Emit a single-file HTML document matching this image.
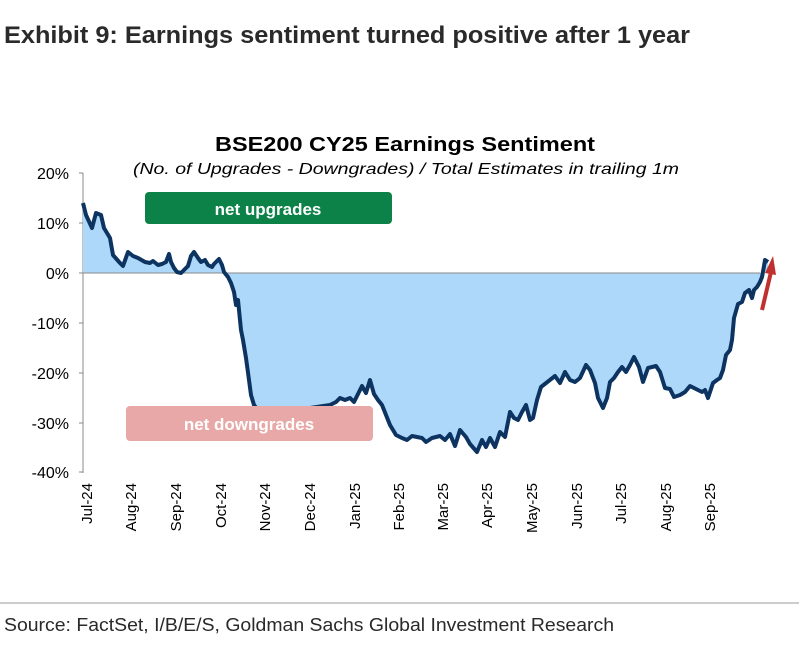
<!DOCTYPE html>
<html><head><style>
body{margin:0;background:#fff;width:799px;height:645px;overflow:hidden;font-family:"Liberation Sans",sans-serif}
</style></head><body>
<svg width="799" height="645" xmlns="http://www.w3.org/2000/svg" font-family="Liberation Sans, sans-serif">
<text x="4" y="43" font-size="24" font-weight="bold" fill="#2a2a2a" textLength="686" lengthAdjust="spacingAndGlyphs">Exhibit 9: Earnings sentiment turned positive after 1 year</text>
<text x="215" y="151" font-size="20" font-weight="bold" fill="#000" textLength="380" lengthAdjust="spacingAndGlyphs">BSE200 CY25 Earnings Sentiment</text>
<text x="133" y="174" font-size="16" font-style="italic" fill="#000" textLength="546" lengthAdjust="spacingAndGlyphs">(No. of Upgrades - Downgrades) / Total Estimates in trailing 1m</text>
<g font-size="16" text-anchor="end" fill="#000">
<text x="69" y="179">20%</text><text x="69" y="229">10%</text><text x="69" y="279">0%</text>
<text x="69" y="329">-10%</text><text x="69" y="379">-20%</text><text x="69" y="429">-30%</text><text x="69" y="478">-40%</text>
</g>
<line x1="83" y1="173" x2="83" y2="473" stroke="#888"/>
<g stroke="#888"><line x1="79" y1="173" x2="83" y2="173"/><line x1="79" y1="223" x2="83" y2="223"/><line x1="79" y1="273" x2="83" y2="273"/><line x1="79" y1="323" x2="83" y2="323"/><line x1="79" y1="373" x2="83" y2="373"/><line x1="79" y1="423" x2="83" y2="423"/><line x1="79" y1="472" x2="83" y2="472"/></g>
<polygon fill="#aed8fa" points="83,273 83,203 86,215 92,228 96,213 101,215 104,228 110,238 113,255 120,263 123,266 128,252 133,256 138,258 145,262 150,263 153,261 158,265 162,264 166,262 169,254 171,262 174,268 177,272 181,273 185,269 188,266 191,256 194,252 198,258 201,262 205,260 208,265 212,267 214,264 219,259 222,265 224,272 228,277 231,283 234,292 236,305 238,300 241,330 243,340 246,358 249,380 251,395 254,405 258,410 270,412 290,410 310,408 330,405 336,402 340,398 345,400 350,398 354,402 358,394 362,386 366,393 370,380 374,394 378,400 382,405 386,415 390,425 396,435 402,438 407,440 412,436 417,437 422,438 426,442 432,438 440,436 445,440 450,434 455,446 460,430 466,437 470,444 477,452 482,440 486,447 490,438 495,447 500,432 505,437 510,412 514,418 518,420 522,412 526,405 530,420 533,418 537,400 541,387 555,376 560,383 565,372 570,380 575,382 580,378 586,365 590,370 595,383 598,398 603,408 607,398 610,382 614,378 618,372 622,367 626,372 630,365 634,357 639,367 643,382 648,368 652,367 656,366 660,372 665,388 670,389 674,397 680,395 685,392 690,386 694,388 698,390 702,392 705,390 708,398 713,383 717,380 720,378 723,370 726,355 730,350 732,340 734,318 738,304 742,302 745,293 749,290 752,298 754,290 757,287 760,282 762,277 764,266 765,260 768,262 768,273"/>
<line x1="83" y1="273" x2="760" y2="273" stroke="#888"/>
<polyline fill="none" stroke="#0d3461" stroke-width="4" stroke-linejoin="round" points="83,203 86,215 92,228 96,213 101,215 104,228 110,238 113,255 120,263 123,266 128,252 133,256 138,258 145,262 150,263 153,261 158,265 162,264 166,262 169,254 171,262 174,268 177,272 181,273 185,269 188,266 191,256 194,252 198,258 201,262 205,260 208,265 212,267 214,264 219,259 222,265 224,272 228,277 231,283 234,292 236,305 238,300 241,330 243,340 246,358 249,380 251,395 254,405 258,410 270,412 290,410 310,408 330,405 336,402 340,398 345,400 350,398 354,402 358,394 362,386 366,393 370,380 374,394 378,400 382,405 386,415 390,425 396,435 402,438 407,440 412,436 417,437 422,438 426,442 432,438 440,436 445,440 450,434 455,446 460,430 466,437 470,444 477,452 482,440 486,447 490,438 495,447 500,432 505,437 510,412 514,418 518,420 522,412 526,405 530,420 533,418 537,400 541,387 555,376 560,383 565,372 570,380 575,382 580,378 586,365 590,370 595,383 598,398 603,408 607,398 610,382 614,378 618,372 622,367 626,372 630,365 634,357 639,367 643,382 648,368 652,367 656,366 660,372 665,388 670,389 674,397 680,395 685,392 690,386 694,388 698,390 702,392 705,390 708,398 713,383 717,380 720,378 723,370 726,355 730,350 732,340 734,318 738,304 742,302 745,293 749,290 752,298 754,290 757,287 760,282 762,277 764,266 765,260 768,262"/>
<rect x="145" y="192" width="247" height="32" rx="4" fill="#0c8148"/>
<text x="268" y="215" font-size="17" font-weight="bold" fill="#fff" text-anchor="middle">net upgrades</text>
<rect x="126" y="406" width="247" height="35" rx="4" fill="#e8a8a8"/>
<text x="249" y="430" font-size="17" font-weight="bold" fill="#fff" text-anchor="middle">net downgrades</text>
<line x1="762" y1="310" x2="771" y2="272" stroke="#c0302e" stroke-width="4"/>
<polygon points="765,273 776,275 773,256" fill="#c0302e"/>
<g font-size="15" fill="#000" text-anchor="end">
<text transform="translate(92,483) rotate(-90)">Jul-24</text>
<text transform="translate(136,483) rotate(-90)">Aug-24</text>
<text transform="translate(181,483) rotate(-90)">Sep-24</text>
<text transform="translate(226,483) rotate(-90)">Oct-24</text>
<text transform="translate(270,483) rotate(-90)">Nov-24</text>
<text transform="translate(315,483) rotate(-90)">Dec-24</text>
<text transform="translate(360,483) rotate(-90)">Jan-25</text>
<text transform="translate(404,483) rotate(-90)">Feb-25</text>
<text transform="translate(448,483) rotate(-90)">Mar-25</text>
<text transform="translate(492,483) rotate(-90)">Apr-25</text>
<text transform="translate(537,483) rotate(-90)">May-25</text>
<text transform="translate(582,483) rotate(-90)">Jun-25</text>
<text transform="translate(626,483) rotate(-90)">Jul-25</text>
<text transform="translate(671,483) rotate(-90)">Aug-25</text>
<text transform="translate(715,483) rotate(-90)">Sep-25</text>
</g>
<line x1="0" y1="603" x2="799" y2="603" stroke="#999"/>
<text x="4" y="631" font-size="18" fill="#2a2a2a" textLength="610" lengthAdjust="spacingAndGlyphs">Source: FactSet, I/B/E/S, Goldman Sachs Global Investment Research</text>
</svg>
</body></html>
